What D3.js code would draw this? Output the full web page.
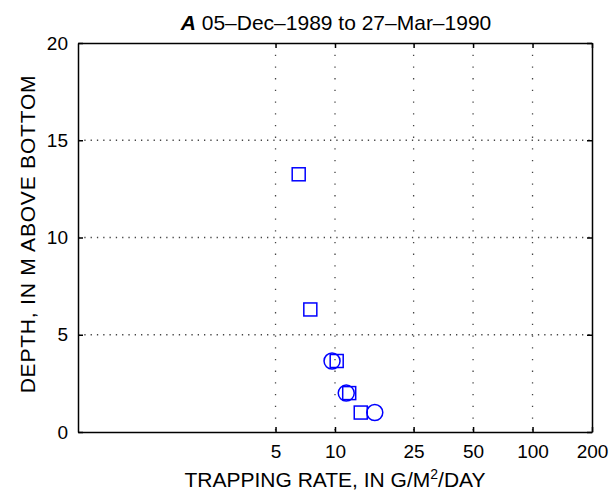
<!DOCTYPE html>
<html>
<head>
<meta charset="utf-8">
<script src="https://cdn.jsdelivr.net/npm/d3@7"></script>
<style>
  body { margin: 0; background: #fff; }
  text { font-family: "Liberation Sans", Arial, sans-serif; fill: #000; }
  .axis path, .axis line { stroke: #000; stroke-width: 1.5; }
  .axis text { font-size: 19px; }
</style>
</head>
<body>
<div id="chart"></div>
<script>
// 图形尺寸
const width = 613;
const height = 497;
const margin = {top: 43, right: 21, bottom: 65, left: 78};

// 数据
const squareRate = [6.55, 7.5, 10.2, 11.8, 13.5];
const squareDepth = [13.25, 6.3, 3.65, 2.0, 1.0];
const circleRate = [9.66, 11.4, 15.9];
const circleDepth = [3.65, 2.0, 1.0];

const xTicks = [5, 10, 25, 50, 100, 200];
const yTicks = [0, 5, 10, 15, 20];

var svg = d3.select("#chart").append("svg")
    .attr("width", width).attr("height", height);

var x = d3.scaleLog().domain([0.5, 200]).range([margin.left, width - margin.right]);
var y = d3.scaleLinear().domain([0, 20]).range([height - margin.bottom, margin.top]);

// 网格
var grid = svg.append("g").attr("id", "grid");
grid.selectAll(".vgrid")
    .data(xTicks.filter(d => d < 200))
    .enter().append("line")
    .attr("x1", d => x(d)).attr("x2", d => x(d))
    .attr("y1", y(20)).attr("y2", y(0))
    .attr("stroke", "#444").attr("stroke-width", 1.3)
    .attr("stroke-dasharray", "1.3,10.4");
grid.selectAll(".hgrid")
    .data(yTicks.filter(d => d > 0 && d < 20))
    .enter().append("line")
    .attr("x1", x(0.5)).attr("x2", x(200))
    .attr("y1", d => y(d)).attr("y2", d => y(d))
    .attr("stroke", "#444").attr("stroke-width", 1.3)
    .attr("stroke-dasharray", "1.3,5");

// 坐标轴
svg.append("g").attr("class", "axis")
    .attr("transform", "translate(0," + y(0) + ")")
    .call(d3.axisBottom(x).tickValues(xTicks).tickFormat(d3.format("d"))
        .tickSizeInner(-5).tickSizeOuter(0).tickPadding(13));
svg.append("g").attr("class", "axis")
    .attr("transform", "translate(0," + y(20) + ")")
    .call(d3.axisTop(x).tickValues(xTicks).tickFormat("")
        .tickSizeInner(-5).tickSizeOuter(0));
svg.append("g").attr("class", "axis")
    .attr("transform", "translate(" + x(0.5) + ",0)")
    .call(d3.axisLeft(y).tickValues(yTicks)
        .tickSizeInner(-5).tickSizeOuter(0).tickPadding(10));
svg.append("g").attr("class", "axis")
    .attr("transform", "translate(" + x(200) + ",0)")
    .call(d3.axisRight(y).tickValues(yTicks).tickFormat("")
        .tickSizeInner(-5).tickSizeOuter(0));

// 标记
var sq = 13;
svg.append("g").selectAll("rect")
    .data(squareRate.map((r, i) => [r, squareDepth[i]]))
    .enter().append("rect")
    .attr("x", d => x(d[0]) - sq / 2).attr("y", d => y(d[1]) - sq / 2)
    .attr("width", sq).attr("height", sq)
    .attr("fill", "none").attr("stroke", "#0000ff").attr("stroke-width", 1.5);

svg.append("g").selectAll("circle")
    .data(circleRate.map((r, i) => [r, circleDepth[i]]))
    .enter().append("circle")
    .attr("cx", d => x(d[0])).attr("cy", d => y(d[1]))
    .attr("r", 8)
    .attr("fill", "none").attr("stroke", "#0000ff").attr("stroke-width", 1.5);

// 标题和轴标签
var title = svg.append("text")
    .attr("x", 336).attr("y", 30)
    .attr("text-anchor", "middle")
    .style("font-size", "21px");
title.append("tspan").style("font-weight", "bold").style("font-style", "italic").text("A");
title.append("tspan").text(" 05\u2013Dec\u20131989 to 27\u2013Mar\u20131990");

var xlab = svg.append("text")
    .attr("x", (x(0.5) + x(200)) / 2).attr("y", 487)
    .attr("text-anchor", "middle")
    .style("font-size", "21px");
xlab.append("tspan").text("TRAPPING RATE, IN G/M");
xlab.append("tspan").attr("dy", -8).style("font-size", "14px").text("2");
xlab.append("tspan").attr("dy", 8).text("/DAY");

svg.append("text")
    .attr("transform", "translate(35," + 234 + ") rotate(-90)")
    .attr("text-anchor", "middle")
    .style("font-size", "21px")
    .style("letter-spacing", "0.8px")
    .text("DEPTH, IN M ABOVE BOTTOM");
</script>
</body>
</html>
